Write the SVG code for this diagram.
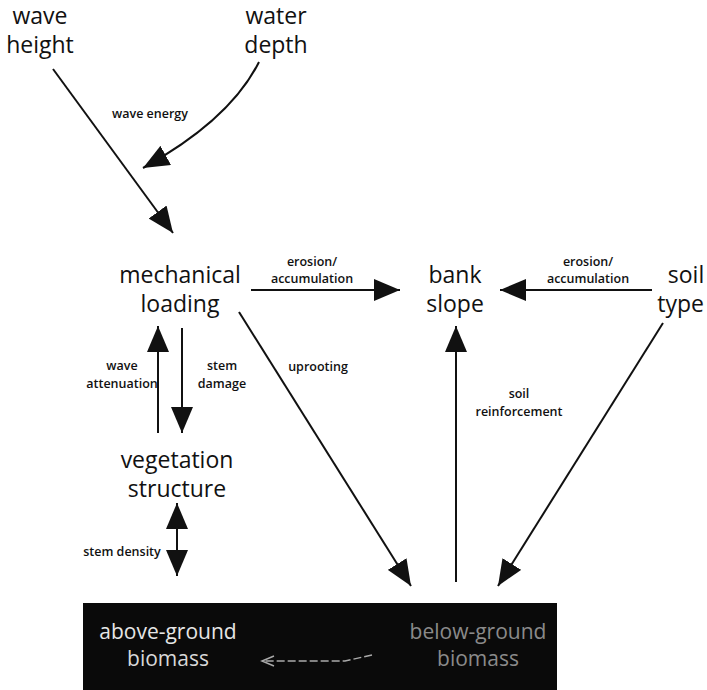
<svg xmlns="http://www.w3.org/2000/svg" width="707" height="690" viewBox="0 0 707 690">
<defs>
<style>
.big{font-family:"Open Sans","Liberation Sans",sans-serif;font-size:23px;fill:#111;text-anchor:middle}
.sm{font-family:"Open Sans","Liberation Sans",sans-serif;font-size:12.5px;font-weight:600;fill:#111;text-anchor:middle}
.ln{stroke:#111;stroke-width:2;fill:none}
.bx{font-family:"Open Sans","Liberation Sans",sans-serif;font-size:21px;text-anchor:middle}
</style>
<marker id="big" viewBox="0 0 26 22" refX="26" refY="11" markerWidth="26" markerHeight="22" orient="auto" markerUnits="userSpaceOnUse">
<path d="M0,0 L26,11 L0,22 z" fill="#111"/>
</marker>
<marker id="bigs" viewBox="0 0 26 22" refX="26" refY="11" markerWidth="26" markerHeight="22" orient="auto-start-reverse" markerUnits="userSpaceOnUse">
<path d="M0,0 L26,11 L0,22 z" fill="#111"/>
</marker>
</defs>
<rect width="707" height="690" fill="#fff"/>

<g id="connectors">
<path class="ln" d="M53,69 L173,233" marker-end="url(#big)"/>
<path class="ln" d="M259,62 Q230,120 143,168" marker-end="url(#big)"/>
<path class="ln" d="M251,290 L400,290" marker-end="url(#big)"/>
<path class="ln" d="M652,290 L500,290" marker-end="url(#big)"/>
<path class="ln" d="M158,433 L158,326" marker-end="url(#big)"/>
<path class="ln" d="M182,328 L182,433" marker-end="url(#big)"/>
<path class="ln" d="M239,312 L411,586" marker-end="url(#big)"/>
<path class="ln" d="M456,582 L456,326" marker-end="url(#big)"/>
<path class="ln" d="M663,323 L498,586" marker-end="url(#big)"/>
<path class="ln" d="M177,503 L177,576" marker-start="url(#bigs)" marker-end="url(#bigs)"/>
</g>

<g id="labels">
<text class="sm" x="150" y="118">wave energy</text>
<text class="sm" x="312" y="266">erosion/</text>
<text class="sm" x="312" y="283">accumulation</text>
<text class="sm" x="588" y="266">erosion/</text>
<text class="sm" x="588" y="283">accumulation</text>
<text class="sm" x="122" y="370">wave</text>
<text class="sm" x="122" y="388">attenuation</text>
<text class="sm" x="222" y="370">stem</text>
<text class="sm" x="222" y="388">damage</text>
<text class="sm" x="318" y="371">uprooting</text>
<text class="sm" x="519" y="398">soil</text>
<text class="sm" x="519" y="416">reinforcement</text>
<text class="sm" x="122" y="556">stem density</text>
</g>

<g id="wave-height"><text class="big" x="40" y="24">wave</text><text class="big" x="40" y="53">height</text></g>
<g id="water-depth"><text class="big" x="276" y="24">water</text><text class="big" x="276" y="53">depth</text></g>
<g id="mechanical-loading"><text class="big" x="180" y="283">mechanical</text><text class="big" x="180" y="312">loading</text></g>
<g id="bank-slope"><text class="big" x="455" y="283">bank</text><text class="big" x="455" y="312">slope</text></g>
<g id="soil-type"><text class="big" x="686" y="283">soil</text><text class="big" x="704" y="312" style="text-anchor:end">type</text></g>
<g id="vegetation-structure"><text class="big" x="177" y="468">vegetation</text><text class="big" x="177" y="497">structure</text></g>

<g id="biomass">
<rect x="83" y="603" width="474" height="87" fill="#0a0a0a"/>
<text class="bx" x="168" y="639" fill="#e6e6e6">above-ground</text>
<text class="bx" x="168" y="666" fill="#d8d8d8">biomass</text>
<text class="bx" x="478" y="639" fill="#8a8a8a">below-ground</text>
<text class="bx" x="478" y="666" fill="#8a8a8a">biomass</text>
<path d="M372,655 L345,661 L262,661" stroke="#aaa" stroke-width="1.5" fill="none" stroke-dasharray="8 3"/>
<path d="M274,656 L262,661 L274,666" stroke="#aaa" stroke-width="1.5" fill="none"/>
</g>
</svg>
